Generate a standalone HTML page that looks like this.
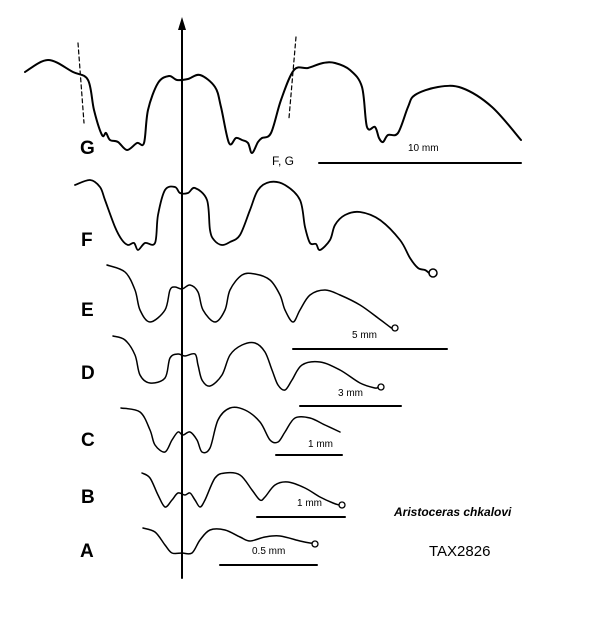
<!DOCTYPE html>
<html><head><meta charset="utf-8"><style>
html,body{margin:0;padding:0;background:#fff;}
svg{display:block;}
text{font-family:"Liberation Sans",sans-serif;fill:#000;}
.lbl{font-size:19px;font-weight:bold;}
.sm{font-size:10px;}
</style></head><body>
<svg width="598" height="624" viewBox="0 0 598 624">
<g fill="none" stroke="#000" stroke-linejoin="round" stroke-linecap="round">
<line x1="182" y1="578" x2="182" y2="28" stroke-width="2"/>
<polygon points="182,17 178,30 186,30" fill="#000" stroke="none"/>

<polyline class="sut" stroke-width="2" points="25,72 48,60 73,72 88,80 94,110 102,135 106,133 110,140 118,142 127,150 137,143 144,143 148,110 158,83 169,76 177,80 188,79 200,75 215,87 221,107 229,143 236,138 242,140 248,143 252,153 258,142 262,138 271,133 281,100 294,70 308,68 323,63 335,63 350,70 362,87 367,127 375,127 379,138 383,142 388,135 398,133 408,107 415,95 438,87 462,88 492,107 521,140"/>
<line x1="78" y1="43" x2="84" y2="123" stroke-width="1.2" stroke-dasharray="4,3"/>
<line x1="296" y1="37" x2="289" y2="118" stroke-width="1.2" stroke-dasharray="4,3"/>
<line x1="319" y1="163" x2="521" y2="163" stroke-width="2"/>

<polyline class="sut" stroke-width="1.8" points="75,185 90,180 100,187 105,200 115,227 122,240 128,245 134,243 138,250 145,243 155,243 158,215 165,190 175,187 180,193 188,193 195,188 207,200 210,230 214,240 222,245 230,242 240,235 250,210 258,190 270,182 285,185 300,200 305,227 310,243 316,244 320,250 330,240 335,225 345,215 360,212 380,220 400,240 410,258 418,268 425,270 429,273"/>
<circle cx="433" cy="273" r="4" stroke-width="1.5"/>

<polyline class="sut" stroke-width="1.5" points="107,265 125,272 135,290 140,310 150,322 165,310 170,290 175,287 182,289 190,285 198,292 203,310 215,322 225,310 230,290 242,275 255,274 270,280 280,295 285,310 293,322 300,310 310,295 325,290 340,295 360,305 378,318 390,327 392,328"/>
<circle cx="395" cy="328" r="3" stroke-width="1.3"/>
<line x1="293" y1="349" x2="447" y2="349" stroke-width="2"/>

<polyline class="sut" stroke-width="1.5" points="113,336 125,340 135,355 140,375 150,383 165,378 170,358 178,354 185,356 195,354 198,365 202,380 210,386 222,375 230,355 242,345 255,343 265,352 272,370 278,385 285,390 292,380 302,365 320,362 340,370 360,383 375,388 378,387"/>
<circle cx="381" cy="387" r="3" stroke-width="1.3"/>
<line x1="300" y1="406" x2="401" y2="406" stroke-width="2"/>

<polyline class="sut" stroke-width="1.5" points="121,408 140,412 150,430 155,445 165,452 172,440 178,432 183,435 190,432 197,440 202,452 210,448 218,420 230,408 245,410 260,422 270,440 278,442 285,432 295,418 310,418 325,425 340,432"/>
<line x1="276" y1="455" x2="342" y2="455" stroke-width="2"/>

<polyline class="sut" stroke-width="1.5" points="142,473 150,478 158,495 165,507 172,500 178,493 185,495 190,493 195,500 200,507 205,500 215,478 225,473 240,475 252,490 260,500 265,497 275,485 288,482 305,488 320,497 333,503 339,505"/>
<circle cx="342" cy="505" r="3" stroke-width="1.3"/>
<line x1="257" y1="517" x2="345" y2="517" stroke-width="2"/>

<polyline class="sut" stroke-width="1.5" points="143,528 155,532 165,545 172,553 182,553 192,553 200,540 210,530 225,530 240,537 250,541 265,537 280,536 300,541 310,543 312,543"/>
<circle cx="315" cy="544" r="3" stroke-width="1.3"/>
<line x1="220" y1="565" x2="317" y2="565" stroke-width="2"/>
</g>

<text class="lbl" x="80" y="154">G</text>
<text class="lbl" x="81" y="246">F</text>
<text class="lbl" x="81" y="316">E</text>
<text class="lbl" x="81" y="379">D</text>
<text class="lbl" x="81" y="446">C</text>
<text class="lbl" x="81" y="503">B</text>
<text class="lbl" x="80" y="557">A</text>

<text class="sm" x="408" y="151">10 mm</text>
<text x="272" y="165" style="font-size:12px">F, G</text>
<text class="sm" x="352" y="338">5 mm</text>
<text class="sm" x="338" y="396">3 mm</text>
<text class="sm" x="308" y="447">1 mm</text>
<text class="sm" x="297" y="506">1 mm</text>
<text class="sm" x="252" y="554">0.5 mm</text>
<text x="394" y="516" style="font-size:12px;font-weight:bold;font-style:italic">Aristoceras chkalovi</text>
<text x="429" y="556" style="font-size:15px">TAX2826</text>
</svg>
<script>
document.querySelectorAll('polyline.sut').forEach(function(pl){
  var pts = pl.getAttribute('points').trim().split(/\s+/).map(function(s){return s.split(',').map(Number);});
  var d = 'M' + pts[0][0] + ',' + pts[0][1];
  for (var i = 0; i < pts.length - 1; i++) {
    var p0 = pts[i-1] || pts[i], p1 = pts[i], p2 = pts[i+1], p3 = pts[i+2] || p2;
    var c1x = p1[0] + (p2[0]-p0[0])/6, c1y = p1[1] + (p2[1]-p0[1])/6;
    var c2x = p2[0] - (p3[0]-p1[0])/6, c2y = p2[1] - (p3[1]-p1[1])/6;
    d += ' C' + c1x.toFixed(1) + ',' + c1y.toFixed(1) + ' ' + c2x.toFixed(1) + ',' + c2y.toFixed(1) + ' ' + p2[0] + ',' + p2[1];
  }
  var path = document.createElementNS('http://www.w3.org/2000/svg','path');
  path.setAttribute('d', d);
  path.setAttribute('stroke-width', pl.getAttribute('stroke-width'));
  
  
  pl.parentNode.replaceChild(path, pl);
});
</script>
</body></html>
